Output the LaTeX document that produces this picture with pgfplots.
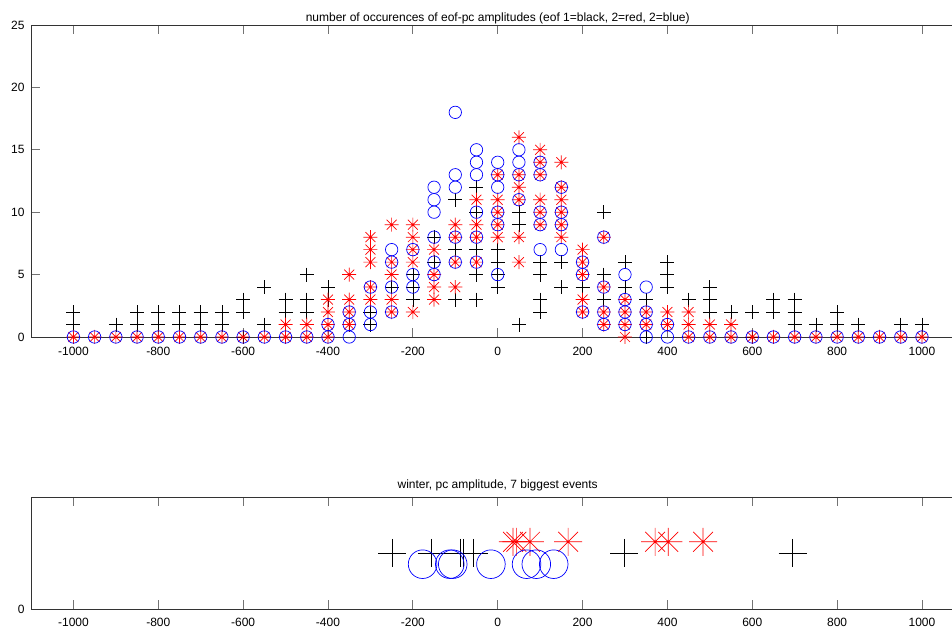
\documentclass[border=0pt]{standalone}
\usepackage{fontspec}
\setmainfont{Liberation Sans}
\usepackage{pgfplots}
\pgfplotsset{compat=1.18}

\pgfdeclareplotmark{octstar}{%
  \pgfpathmoveto{\pgfqpoint{-\pgfplotmarksize}{0pt}}\pgfpathlineto{\pgfqpoint{\pgfplotmarksize}{0pt}}%
  \pgfpathmoveto{\pgfqpoint{0pt}{-\pgfplotmarksize}}\pgfpathlineto{\pgfqpoint{0pt}{\pgfplotmarksize}}%
  \pgfpathmoveto{\pgfqpoint{-0.7071\pgfplotmarksize}{-0.7071\pgfplotmarksize}}\pgfpathlineto{\pgfqpoint{0.7071\pgfplotmarksize}{0.7071\pgfplotmarksize}}%
  \pgfpathmoveto{\pgfqpoint{-0.7071\pgfplotmarksize}{0.7071\pgfplotmarksize}}\pgfpathlineto{\pgfqpoint{0.7071\pgfplotmarksize}{-0.7071\pgfplotmarksize}}%
  \pgfusepathqstroke}

\pgfplotsset{
  myaxis/.style={
    scale only axis, anchor=south west,
    width=933.4pt,
    xmin=-1100, xmax=1100,
    xtick={-1000,-800,...,1000},
    tick align=inside,
    major tick length=9pt,
    tick style={black!55, line width=0.8pt},
    axis line style={black!80, line width=0.8pt},
    /pgf/number format/assume math mode=true,
    /pgf/number format/set thousands separator={},
    tick label style={font=\fontsize{12}{14}\selectfont},
    yticklabel style={xshift=-3pt},
    title style={font=\fontsize{12}{14}\selectfont},
    clip=false,
  },
  blk/.style={only marks, mark=+, mark size=7pt, black, line width=0.7pt},
  rd/.style={only marks, mark=octstar, mark size=7pt, red, line width=0.7pt},
  bl/.style={only marks, mark=o, mark size=6.2pt, blue, line width=0.7pt},
}

\begin{document}
\begin{tikzpicture}[x=1pt,y=1pt]
\path[use as bounding box] (0,0) rectangle (952,628);
\begin{axis}[myaxis,
  at={(31pt,291pt)},
  height=312pt,
  ymin=0, ymax=25, ytick={0,5,...,25},
  xticklabel style={yshift=-7pt},
  title style={yshift=-9pt},
  title={number of occurences of eof-pc amplitudes (eof 1=black, 2=red, 2=blue)},
]
\addplot[blk] coordinates {
(-1000,1)(-1000,2)(-900,1)(-850,1)(-850,2)(-800,1)(-800,2)(-750,1)(-750,2)
(-700,1)(-700,2)(-650,1)(-650,2)(-600,0)(-600,2)(-600,3)(-550,1)(-550,4)
(-500,2)(-500,3)(-450,2)(-450,3)(-450,5)(-400,3)(-400,4)(-350,1)
(-300,1)(-300,2)(-250,4)(-200,3)(-200,4)(-200,5)(-150,6)(-150,8)
(-100,3)(-100,7)(-100,11)(-50,3)(-50,5)(-50,7)(-50,10)(-50,12)
(0,4)(0,5)(0,6)(0,7)(50,1)(50,9)(50,10)(100,2)(100,3)(100,5)(100,6)
(150,4)(150,6)(200,4)(250,3)(250,5)(250,10)(300,4)(300,6)(350,0)(350,3)
(400,4)(400,5)(400,6)(450,3)(500,2)(500,3)(500,4)(550,2)(600,0)(600,2)
(650,2)(650,3)(700,1)(700,2)(700,3)(750,1)(800,1)(800,2)(850,1)(950,1)(1000,1)
};
\addplot[rd] coordinates {
(-1000,0)(-950,0)(-900,0)(-850,0)(-800,0)(-750,0)(-700,0)(-650,0)(-600,0)(-550,0)
(-500,0)(-500,1)(-450,0)(-450,1)(-400,0)(-400,1)(-400,2)(-400,3)
(-350,1)(-350,2)(-350,3)(-350,5)
(-300,3)(-300,4)(-300,6)(-300,7)(-300,8)
(-250,2)(-250,3)(-250,5)(-250,6)(-250,9)
(-200,2)(-200,6)(-200,7)(-200,8)(-200,9)
(-150,3)(-150,4)(-150,5)(-150,7)
(-100,4)(-100,6)(-100,8)(-100,9)
(-50,6)(-50,8)(-50,9)(-50,11)
(0,8)(0,9)(0,10)(0,11)(0,13)
(50,6)(50,8)(50,11)(50,12)(50,13)(50,16)
(100,9)(100,10)(100,11)(100,13)(100,14)(100,15)
(150,8)(150,9)(150,10)(150,11)(150,12)(150,14)
(200,2)(200,3)(200,5)(200,6)(200,7)
(250,1)(250,2)(250,4)(250,8)
(300,0)(300,1)(300,2)(300,3)
(350,1)(350,2)(400,1)(400,2)(450,0)(450,1)(450,2)(500,0)(500,1)(550,0)(550,1)
(600,0)(650,0)(700,0)(750,0)(800,0)(850,0)(900,0)(950,0)(1000,0)
};
\addplot[bl] coordinates {
(-1000,0)(-950,0)(-900,0)(-850,0)(-800,0)(-750,0)(-700,0)(-650,0)(-600,0)(-550,0)(-500,0)(-450,0)
(-400,0)(-400,1)(-350,0)(-350,1)(-350,2)(-300,1)(-300,2)(-300,4)
(-250,2)(-250,4)(-250,6)(-250,7)(-200,4)(-200,5)(-200,7)
(-150,5)(-150,6)(-150,8)(-150,10)(-150,11)(-150,12)
(-100,6)(-100,8)(-100,12)(-100,13)(-100,18)
(-50,6)(-50,8)(-50,10)(-50,13)(-50,14)(-50,15)
(0,5)(0,9)(0,10)(0,12)(0,13)(0,14)
(50,11)(50,13)(50,14)(50,15)
(100,7)(100,9)(100,10)(100,13)(100,14)
(150,7)(150,9)(150,10)(150,12)
(200,2)(200,5)(200,6)
(250,1)(250,2)(250,4)(250,8)
(300,1)(300,2)(300,3)(300,5)
(350,0)(350,1)(350,2)(350,4)
(400,0)(400,1)
(450,0)(500,0)(550,0)(600,0)(650,0)(700,0)(750,0)(800,0)(850,0)(900,0)(950,0)(1000,0)
};
\end{axis}

\begin{axis}[myaxis,
  at={(31pt,19pt)},
  height=112pt,
  ymin=0, ymax=1, ytick={0},
  xticklabel style={yshift=-6pt},
  title style={yshift=-4pt},
  title={winter, pc amplitude, 7 biggest events},
]
\addplot[only marks, mark=+, mark size=14pt, black, line width=0.7pt] coordinates {
(-248,0.5)(-156,0.5)(-88,0.5)(-82,0.5)(-57,0.5)(298,0.5)(695,0.5)
};
\addplot[only marks, mark=octstar, mark size=14pt, red, line width=0.7pt] coordinates {
(36,0.6)(44,0.6)(76,0.6)(166,0.6)(371,0.6)(402,0.6)(484,0.6)
};
\addplot[only marks, mark=o, mark size=14.3pt, blue, line width=0.7pt] coordinates {
(-177,0.4)(-113,0.4)(-106,0.4)(-16,0.4)(68,0.4)(91,0.4)(132,0.4)
};
\end{axis}
\end{tikzpicture}
\end{document}
